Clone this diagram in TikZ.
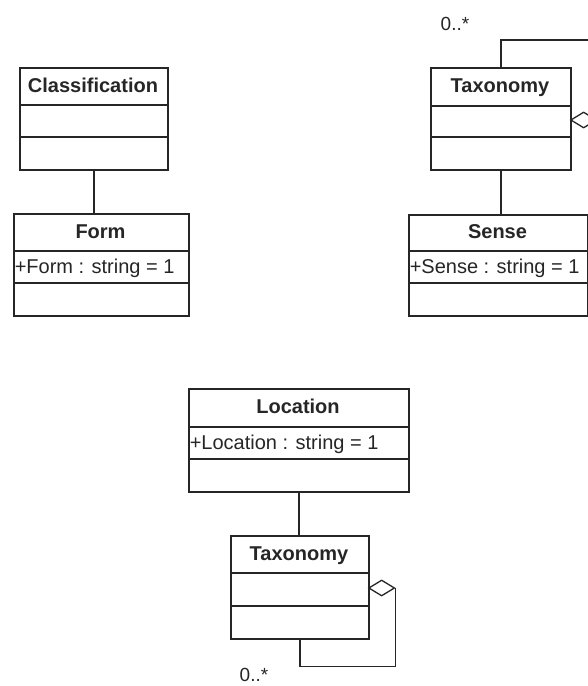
\documentclass[tikz,border=0pt]{standalone}
\usepackage{fontspec}
\setmainfont{Liberation Sans}
\usetikzlibrary{shapes.geometric,calc}
\definecolor{ink}{HTML}{262626}
\begin{document}
\begin{tikzpicture}[x=1pt,y=-1pt,
  line width=1.6pt, draw=ink,
  classbox/.style={draw=ink, rectangle, inner sep=0pt, anchor=north west},
  titletext/.style={font=\fontsize{20}{22}\selectfont\bfseries, text=ink, inner sep=0pt, text height=14.5pt, text depth=4pt},
  attrtext/.style={font=\fontsize{20}{22}\selectfont, text=ink, inner sep=1pt, anchor=west, text height=14.5pt, text depth=4pt},
  multtext/.style={font=\fontsize{19}{22}\selectfont, text=ink, inner sep=0pt},
  agg/.style={draw=ink, fill=white, diamond, inner sep=0pt, minimum width=26pt, minimum height=16pt, line width=1.3pt},
  assoc/.style={draw=ink, line width=1.6pt}
]
\clip (0,0) rectangle (588,686);
\fill[white] (0,0) rectangle (588,686);

% Classification
\node[classbox, minimum width=148pt, minimum height=102pt] (cls) at (19,67) {};
\draw (19,105) -- (167,105);
\draw (19,137) -- (167,137);
\node[titletext] (clsT) at (93,87) {Classification};

% Form
\node[classbox, minimum width=175pt, minimum height=102pt] (form) at (13,213) {};
\draw (13,251) -- (188,251);
\draw (13,283) -- (188,283);
\node[titletext] (formT) at (100.5,233) {Form};
\node[attrtext] (formA) at (13,268) {+Form : string = 1};

% Taxonomy (top right)
\node[classbox, minimum width=140pt, minimum height=102pt] (tax1) at (430,67) {};
\draw (430,106) -- (570,106);
\draw (430,137) -- (570,137);
\node[titletext] (tax1T) at (500,87) {Taxonomy};

% Sense
\node[classbox, minimum width=179pt, minimum height=101pt] (sense) at (408,214) {};
\draw (408,251) -- (587,251);
\draw (408,283) -- (587,283);
\node[titletext] (senseT) at (497.5,233) {Sense};
\node[attrtext] (senseA) at (408,268) {+Sense : string = 1};

% Location
\node[classbox, minimum width=220pt, minimum height=103pt] (loc) at (188,388) {};
\draw (188,427) -- (408,427);
\draw (188,459) -- (408,459);
\node[titletext] (locT) at (298,408) {Location};
\node[attrtext] (locA) at (188,444) {+Location : string = 1};

% Taxonomy (bottom)
\node[classbox, minimum width=138pt, minimum height=103pt] (tax2) at (230,535) {};
\draw (230,573) -- (368,573);
\draw (230,606) -- (368,606);
\node[titletext] (tax2T) at (299,555) {Taxonomy};

% associations
\draw[assoc] (cls.south) -- (cls.south |- form.north);
\draw[assoc] (tax1.south) -- (tax1.south |- sense.north);
\draw[assoc] (loc.south) -- (loc.south |- tax2.north);

% aggregation self loops
\node[agg, anchor=west] (dia1) at (570,120) {};
\draw[assoc] (tax1.north) -- ++(0,-27) -| (dia1.east);
\node[agg, anchor=west] (dia2) at (368,588) {};
\draw[assoc] (tax2.south) -- ++(0,27) -| (dia2.east);

% multiplicities
\node[multtext] (m1) at (455,24) {0..*};
\node[multtext] (m2) at (254,675) {0..*};
\end{tikzpicture}
\end{document}
